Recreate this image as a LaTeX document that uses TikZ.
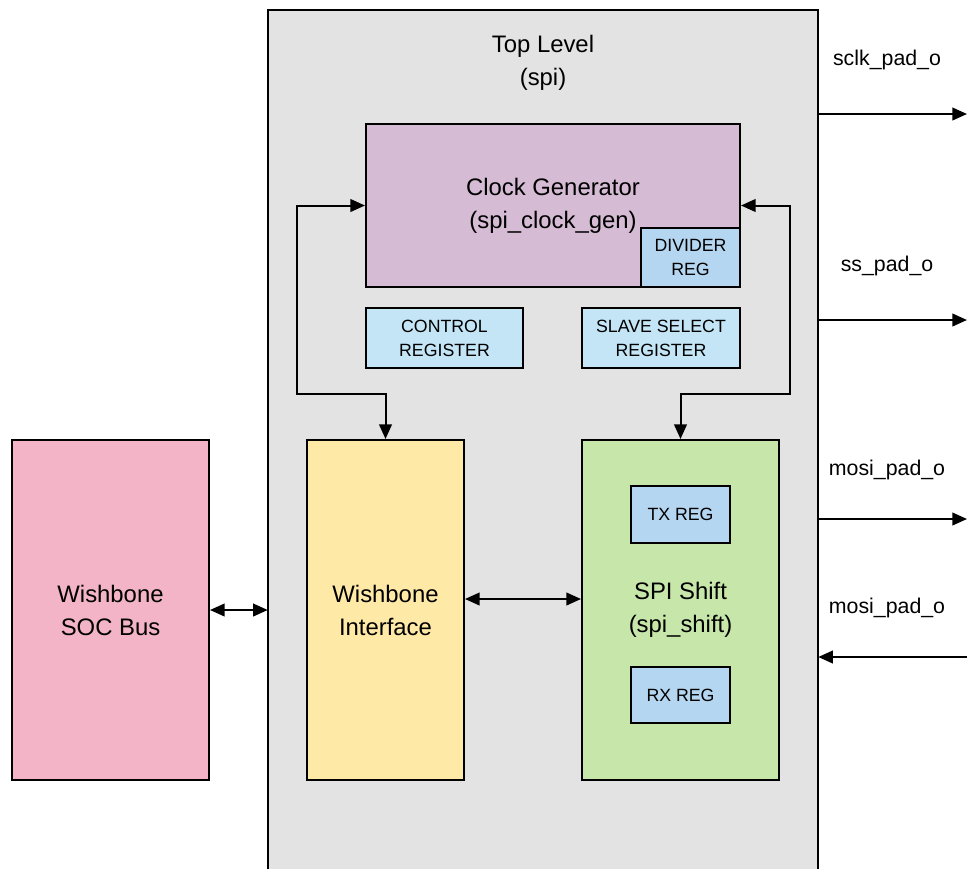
\documentclass[tikz,border=0pt]{standalone}
\usepackage{fontspec}
\setmainfont{Liberation Sans}
\usetikzlibrary{arrows.meta}

\definecolor{toplvl}{RGB}{227,227,227}
\definecolor{clkfill}{RGB}{213,187,211}
\definecolor{regblue}{RGB}{180,214,240}
\definecolor{cfgblue}{RGB}{196,229,246}
\definecolor{wbifill}{RGB}{255,233,166}
\definecolor{spifill}{RGB}{199,231,170}
\definecolor{socfill}{RGB}{242,180,198}

\begin{document}
\begin{tikzpicture}[x=0.75pt,y=-0.75pt,
  blk/.style={draw=black, line width=1.5pt, inner sep=0pt, align=center},
  sized/.style 2 args={minimum width=#1, minimum height=#2},
  big/.style={font=\fontsize{17.9}{24.75}\selectfont},
  small/.style={font=\fontsize{13.3}{18}\selectfont},
  pinlbl/.style={font=\fontsize{16}{19}\selectfont},
  arr/.style={line width=1.5pt, -{Triangle[length=11pt,width=9.5pt]}},
  darr/.style={line width=1.5pt, {Triangle[length=11pt,width=9.5pt]}-{Triangle[length=11pt,width=9.5pt]}}]

\useasboundingbox (0,0) rectangle (967,869);

% top-level container, open at the bottom
\node[inner sep=0pt, fill=toplvl, sized={412.5pt}{644.25pt}] (top) at (543,439.5) {};
\draw[line width=1.5pt] (top.south west) -- (top.north west) -- (top.north east) -- (top.south east);
\node[big, align=center] (title) at (543,63) {Top Level\\(spi)};

% clock generator with its divider register
\node[blk, big, fill=clkfill, sized={280.5pt}{122.25pt}] (clk) at (553,205.5) {Clock Generator\\(spi\_clock\_gen)};
\node[blk, small, fill=regblue, sized={74.25pt}{44.25pt}] (div) at (690.5,257.5) {DIVIDER\\REG};

% configuration registers
\node[blk, small, fill=cfgblue, sized={117.75pt}{45pt}] (ctrl) at (444.5,338) {CONTROL\\REGISTER};
\node[blk, small, fill=cfgblue, sized={118.5pt}{45pt}] (ss) at (661,338) {SLAVE SELECT\\REGISTER};

% wishbone interface and shift block
\node[blk, big, fill=wbifill, sized={117.75pt}{255pt}] (wbi) at (385.5,610) {Wishbone\\Interface};
\node[blk, big, fill=spifill, sized={147.75pt}{255pt}] (spi) at (680.5,610) {SPI Shift\\(spi\_shift)};
\node[blk, small, fill=regblue, sized={74.25pt}{42.75pt}] (tx) at (680.5,514.5) {TX REG};
\node[blk, small, fill=regblue, sized={74.25pt}{42pt}] (rx) at (680.5,695) {RX REG};

% external bus
\node[blk, big, fill=socfill, sized={147.75pt}{255pt}] (soc) at (110.5,610) {Wishbone\\SOC Bus};

% internal connections
\draw[darr] (clk.west) -- ++(-68,0) |- ([yshift=33.75pt]wbi.north) -- (wbi.north);
\draw[darr] (clk.east) -- ++(49,0) |- ([yshift=33.75pt]spi.north) -- (spi.north);
\draw[darr] ([yshift=8.25pt]wbi.east) -- ([yshift=8.25pt]spi.west);
\draw[darr] (soc.east) -- (top.west |- soc.east);

% pads
\coordinate (sclk) at (967,114);
\coordinate (sspad) at (967,320);
\coordinate (mosi) at (967,519);
\coordinate (miso) at (967,657);
\draw[arr] (top.east |- sclk) -- (sclk);
\draw[arr] (top.east |- sspad) -- (sspad);
\draw[arr] (top.east |- mosi) -- (mosi);
\draw[arr] (miso) -- (top.east |- miso);
\node[pinlbl] (lsclk) at (887,60) {sclk\_pad\_o};
\node[pinlbl] (lss) at (887,266) {ss\_pad\_o};
\node[pinlbl] (lmosi) at (887,470) {mosi\_pad\_o};
\node[pinlbl] (lmiso) at (887,608) {mosi\_pad\_o};

\end{tikzpicture}
\end{document}
